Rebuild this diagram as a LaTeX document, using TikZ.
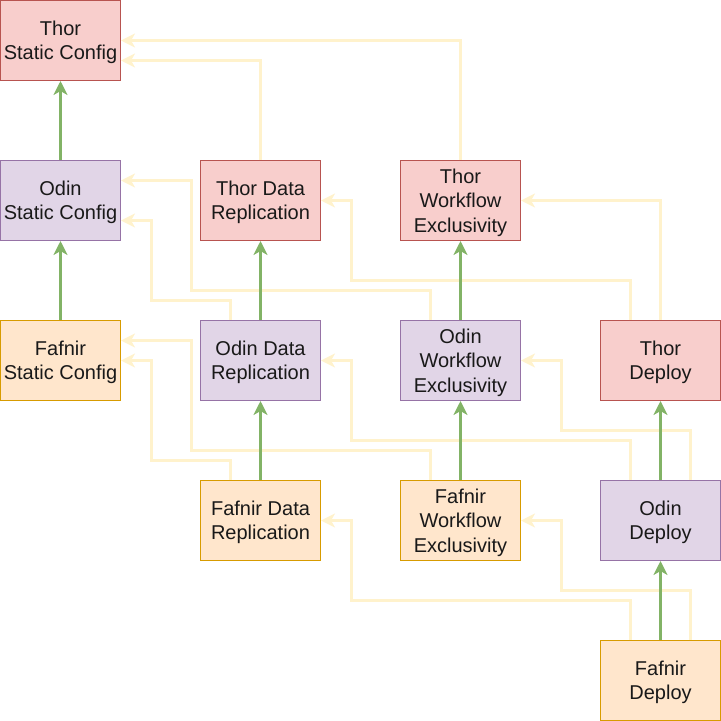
\documentclass[tikz,border=0pt]{standalone}
\usepackage{fontspec}
\setmainfont{Liberation Sans}
\usetikzlibrary{arrows.meta,calc}
\definecolor{redfill}{HTML}{F8CECC}
\definecolor{redline}{HTML}{B85450}
\definecolor{purfill}{HTML}{E1D5E7}
\definecolor{purline}{HTML}{9673A6}
\definecolor{orafill}{HTML}{FFE6CC}
\definecolor{oraline}{HTML}{D79B00}
\definecolor{grn}{HTML}{82B366}
\definecolor{ylw}{HTML}{FFF2CC}
\tikzset{
  box/.style={rectangle, minimum width=90pt, minimum height=60pt, inner sep=0pt,
    line width=0.75pt, align=center, text depth=0pt,
    font=\fontsize{15pt}{18.3pt}\selectfont, text=black!90},
  thor/.style={box, fill=redfill, draw=redline},
  odin/.style={box, fill=purfill, draw=purline},
  fafnir/.style={box, fill=orafill, draw=oraline},
  gedge/.style={draw=grn, line width=2.25pt, -{Stealth[length=10.5pt,width=10.5pt,inset=3pt]}},
  yedge/.style={draw=ylw, line width=2.25pt, -{Stealth[length=10.5pt,width=10.5pt,inset=3pt]}},
}
\begin{document}
\begin{tikzpicture}[x=0.75pt,y=-0.75pt]
\useasboundingbox (0,0) rectangle (721,721);
\node[thor]   (tsc) at (60.5,40.5)  {Thor\\Static Config};
\node[odin]   (osc) at (60.5,200.5) {Odin\\Static Config};
\node[thor]   (tdr) at (260.5,200.5) {Thor Data\\Replication};
\node[thor]   (twe) at (460.5,200.5) {Thor\\Workflow\\Exclusivity};
\node[fafnir] (fsc) at (60.5,360.5) {Fafnir\\Static Config};
\node[odin]   (odr) at (260.5,360.5) {Odin Data\\Replication};
\node[odin]   (owe) at (460.5,360.5) {Odin\\Workflow\\Exclusivity};
\node[thor]   (tdp) at (660.5,360.5) {Thor\\Deploy};
\node[fafnir] (fdr) at (260.5,520.5) {Fafnir Data\\Replication};
\node[fafnir] (fwe) at (460.5,520.5) {Fafnir\\Workflow\\Exclusivity};
\node[odin]   (odp) at (660.5,520.5) {Odin\\Deploy};
\node[fafnir] (fdp) at (660.5,680.5) {Fafnir\\Deploy};
% yellow dependency connectors
\draw[yedge] (tdr.north) |- ($(tsc.east)+(0,20)$);
\draw[yedge] (twe.north) |- (tsc.east);
\draw[yedge] ($(odr.north)+(-30,0)$) -- ++(0,-20) -| ($(osc.east)+(30,20)$) -- ($(osc.east)+(0,20)$);
\draw[yedge] ($(owe.north)+(-30,0)$) -- ++(0,-30) -| ($(osc.east)+(70,-20)$) -- ($(osc.east)+(0,-20)$);
\draw[yedge] ($(tdp.north)+(-30,0)$) -- ++(0,-40) -| ($(tdr.east)+(30,0)$) -- (tdr.east);
\draw[yedge] (tdp.north) |- (twe.east);
\draw[yedge] ($(fdr.north)+(-30,0)$) -- ++(0,-20) -| ($(fsc.east)+(30,0)$) -- (fsc.east);
\draw[yedge] ($(fwe.north)+(-30,0)$) -- ++(0,-30) -| ($(fsc.east)+(70,-20)$) -- ($(fsc.east)+(0,-20)$);
\draw[yedge] ($(odp.north)+(-30,0)$) -- ++(0,-40) -| ($(odr.east)+(30,0)$) -- (odr.east);
\draw[yedge] ($(odp.north)+(30,0)$) -- ++(0,-50) -| ($(owe.east)+(40,0)$) -- (owe.east);
\draw[yedge] ($(fdp.north)+(-30,0)$) -- ++(0,-40) -| ($(fdr.east)+(30,0)$) -- (fdr.east);
\draw[yedge] ($(fdp.north)+(30,0)$) -- ++(0,-50) -| ($(fwe.east)+(40,0)$) -- (fwe.east);
% green connectors
\draw[gedge] (osc) -- (tsc);
\draw[gedge] (fsc) -- (osc);
\draw[gedge] (odr) -- (tdr);
\draw[gedge] (fdr) -- (odr);
\draw[gedge] (owe) -- (twe);
\draw[gedge] (fwe) -- (owe);
\draw[gedge] (odp) -- (tdp);
\draw[gedge] (fdp) -- (odp);
\end{tikzpicture}
\end{document}
